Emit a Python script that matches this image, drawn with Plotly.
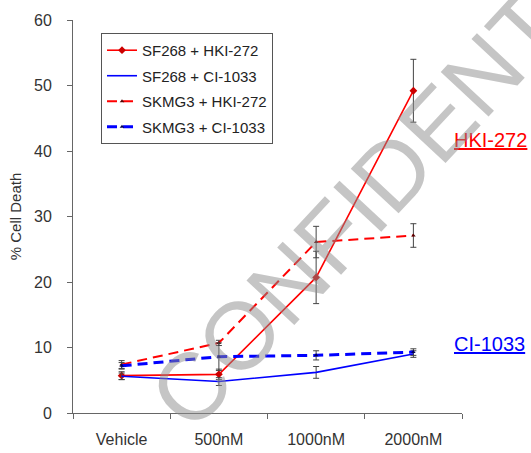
import plotly.graph_objects as go

categories = ["Vehicle", "500nM", "1000nM", "2000nM"]

sf268_hki = [5.7, 5.9, 20.7, 49.2]
sf268_hki_err = [0.6, 0.8, 4.0, 4.8]

sf268_ci = [5.6, 4.8, 6.2, 9.0]
sf268_ci_err = [0.5, 0.6, 0.9, 0.5]

skmg3_hki = [7.4, 10.7, 26.1, 27.1]
skmg3_hki_err = [0.6, 0.4, 2.4, 1.8]

skmg3_ci = [7.2, 8.6, 8.8, 9.3]
skmg3_ci_err = [0.5, 2.1, 0.7, 0.5]

series_names = ["SF268 + HKI-272", "SF268 + CI-1033", "SKMG3 + HKI-272", "SKMG3 + CI-1033"]

FONT = "Liberation Sans, Arial, sans-serif"
ERR_COLOR = "#444444"

fig = go.Figure()

def add(name, y, err, color, dash, width, symbol, msize, mcolor):
    fig.add_trace(go.Scatter(
        x=categories, y=y, name=name, legendgroup=name,
        mode="lines+markers",
        line=dict(color=color, dash=dash, width=width),
        marker=dict(symbol=symbol, size=msize, color=mcolor,
                    line=dict(width=0)),
        error_y=dict(type="data", array=err, visible=True,
                     color=ERR_COLOR, thickness=1, width=3),
    ))

add(series_names[0], sf268_hki, sf268_hki_err, "#ff0000", "solid", 1.6, "diamond", 6, "#cc0000")
add(series_names[1], sf268_ci, sf268_ci_err, "#0000ff", "solid", 1.6, "line-ew", 6, "#000066")
add(series_names[2], skmg3_hki, skmg3_hki_err, "#ff0000", "10px,6px", 2.0, "triangle-up", 4, "#550000")
add(series_names[3], skmg3_ci, skmg3_ci_err, "#0000ff", "10px,6px", 3.0, "triangle-up", 4, "#000055")

fig.update_layout(
    width=531, height=453,
    margin=dict(l=73, r=69, t=20, b=40),
    paper_bgcolor="white", plot_bgcolor="white",
    font=dict(family=FONT, size=15, color="#333333"),
    showlegend=True,
    legend=dict(
        x=0.072, y=0.967, xanchor="left", yanchor="top",
        bordercolor="#555555", borderwidth=1, bgcolor="white",
        font=dict(family=FONT, size=15, color="#222222"),
        tracegroupgap=3, itemwidth=30,
    ),
    xaxis=dict(
        type="category", range=[-0.5, 3.5], automargin=False,
        showline=True, linecolor="#666666", linewidth=1,
        ticks="outside", tickson="boundaries", ticklen=5, tickcolor="#666666",
        showgrid=False, zeroline=False, ticklabelstandoff=12,
        tickfont=dict(family=FONT, size=16, color="#333333"),
    ),
    yaxis=dict(
        range=[0, 60], dtick=10, automargin=False,
        showline=True, linecolor="#666666", linewidth=1,
        ticks="outside", ticklen=5, tickcolor="#666666",
        showgrid=False, zeroline=False, ticklabelstandoff=12,
        tickfont=dict(family=FONT, size=16, color="#333333"),
        title=dict(text="% Cell Death", standoff=8,
                   font=dict(family=FONT, size=15, color="#333333")),
    ),
)

fig.add_annotation(
    x=(452 - 73) / 389, y=41.7, xref="paper", yref="y", xanchor="left", yanchor="middle",
    text="<u>HKI-272</u>", showarrow=False,
    font=dict(family=FONT, size=20, color="#ff0000"),
)
fig.add_annotation(
    x=(452 - 73) / 389, y=10.6, xref="paper", yref="y", xanchor="left", yanchor="middle",
    text="<u>CI-1033</u>", showarrow=False,
    font=dict(family=FONT, size=20, color="#0000ff"),
)

# watermark
fig.add_annotation(
    x=(405 - 73) / 389, y=(413 - 158) / 393, xref="paper", yref="paper",
    xanchor="center", yanchor="middle",
    text="CONFIDENTIAL", textangle=-47, showarrow=False,
    font=dict(family=FONT, size=95, color="rgba(140,140,140,0.5)"),
)

fig.write_html("out.html")
